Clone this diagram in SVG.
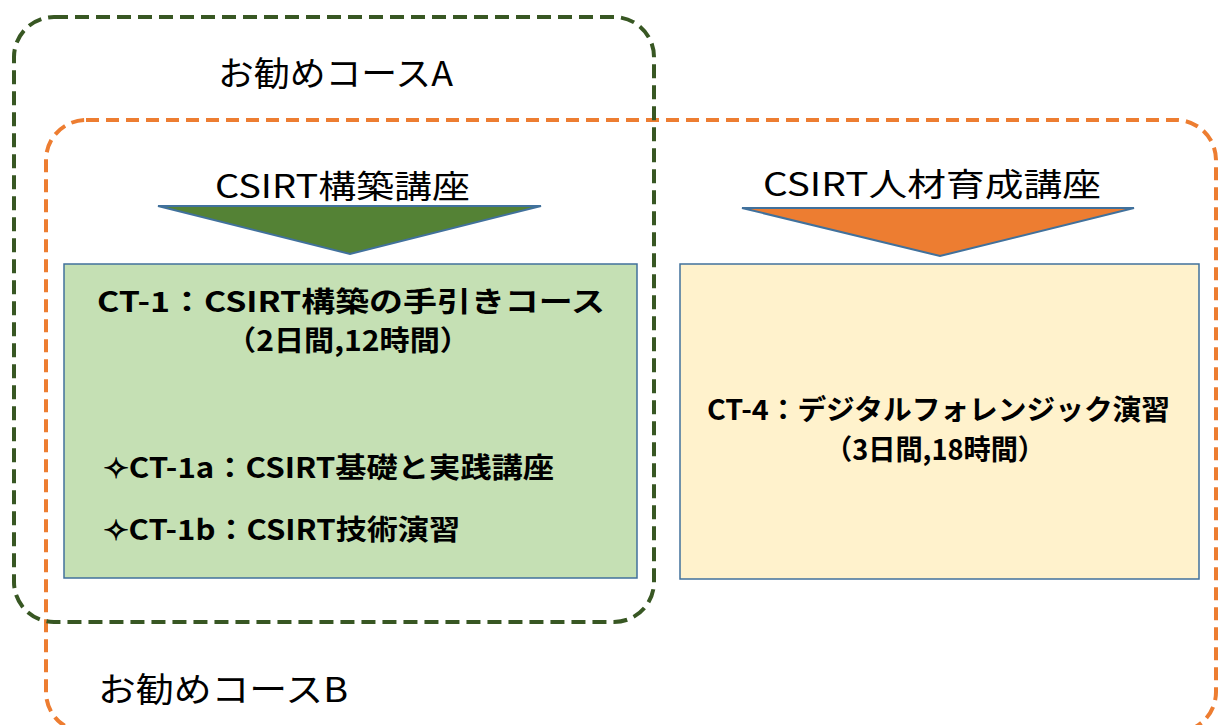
<svg xmlns="http://www.w3.org/2000/svg" width="1219" height="725" viewBox="0 0 1219 725">
<style>
.t{font-family:"Noto Sans CJK JP","Noto Sans",sans-serif;fill:#000}
.hd{font-size:32px}
.b{font-size:28px;font-weight:bold}
.grp-a{fill:none;stroke:#385723;stroke-width:4;stroke-dasharray:14 7}
.grp-b{fill:none;stroke:#ED7D31;stroke-width:4;stroke-dasharray:13 7}
.box{stroke:#41719C;stroke-width:1.5}
.tri{stroke:#41719C;stroke-width:2}
</style>
<rect width="1219" height="725" fill="#fff"/>
<g id="courseB">
<rect class="grp-b" x="46" y="120" width="1170" height="612" rx="40"/>
<text class="t" x="98" y="702" font-size="34" textLength="250" lengthAdjust="spacingAndGlyphs">お勧めコースB</text>
</g>
<g id="courseA">
<rect class="grp-a" x="14" y="17" width="640" height="605" rx="40"/>
<text class="t" x="218" y="86" font-size="34" textLength="235" lengthAdjust="spacingAndGlyphs">お勧めコースA</text>
</g>
<g id="header1">
<text class="t hd" x="215" y="198" textLength="255" lengthAdjust="spacingAndGlyphs">CSIRT構築講座</text>
<polygon class="tri" points="158,206 541,206 350,254" fill="#548235"/>
</g>
<g id="header2">
<text class="t hd" x="763" y="196" textLength="338" lengthAdjust="spacingAndGlyphs">CSIRT人材育成講座</text>
<polygon class="tri" points="742,208 1134,208 940,256" fill="#ED7D31"/>
</g>
<g id="ct1">
<rect class="box" x="64" y="264" width="573" height="314" fill="#C5E0B4"/>
<text class="t b" x="97" y="312" textLength="508" lengthAdjust="spacingAndGlyphs">CT-1：CSIRT構築の手引きコース</text>
<text class="t b" x="226" y="351" textLength="244" lengthAdjust="spacingAndGlyphs">（2日間,12時間）</text>
<text class="t b" x="103" y="478" textLength="451" lengthAdjust="spacingAndGlyphs">✧CT-1a：CSIRT基礎と実践講座</text>
<text class="t b" x="103" y="540" textLength="357" lengthAdjust="spacingAndGlyphs">✧CT-1b：CSIRT技術演習</text>
</g>
<g id="ct4">
<rect class="box" x="680" y="264" width="519" height="315" fill="#FFF2CC"/>
<text class="t b" x="707" y="420" textLength="463" lengthAdjust="spacingAndGlyphs">CT-4：デジタルフォレンジック演習</text>
<text class="t b" x="825" y="460" textLength="220" lengthAdjust="spacingAndGlyphs">（3日間,18時間）</text>
</g>
<g id="connectors"></g>
</svg>
